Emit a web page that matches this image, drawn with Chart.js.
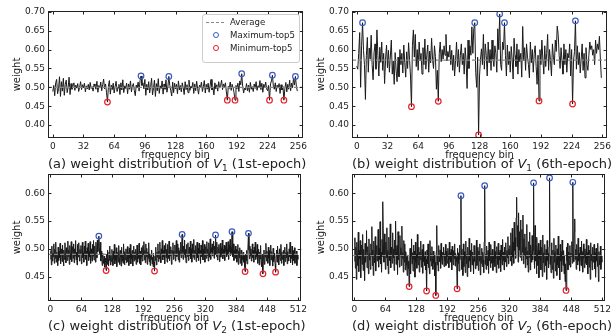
<!DOCTYPE html>
<html>
<head>
<meta charset="utf-8">
<script src="https://cdn.jsdelivr.net/npm/chart.js@4.4.1/dist/chart.umd.min.js"></script>
<style>
  body { margin: 0; width: 614px; height: 333px; position: relative; overflow: hidden; background: #fff;
         font-family: "DejaVu Sans", sans-serif; color: #222; }
  canvas { position: absolute; }
  .cap { position: absolute; width: 256px; text-align: center; font-size: 13px; line-height: 14px; white-space: nowrap; }
  .cap sub { font-size: 9px; line-height: 0; vertical-align: -3px; }
  .legend { position: absolute; left: 202px; top: 14px; width: 98px; height: 49px; box-sizing: border-box;
            border: 1px solid #ccc; border-radius: 3px; background: rgba(255,255,255,0.85); font-size: 8.6px; }
  .legend .row { position: absolute; left: 27px; height: 12px; line-height: 12px; white-space: nowrap; }
  .legend .dash { position: absolute; left: 3px; width: 18px; border-top: 1.3px dashed #888; }
  .legend .dot { position: absolute; left: 10px; width: 4px; height: 4px; border-radius: 50%; border: 1.2px solid; }
</style>
</head>
<body>
<canvas id="chartA" width="310" height="160" style="left:0;top:0"></canvas>
<canvas id="chartB" width="310" height="160" style="left:304px;top:0"></canvas>
<canvas id="chartC" width="310" height="160" style="left:0;top:163px"></canvas>
<canvas id="chartD" width="310" height="160" style="left:304px;top:163px"></canvas>

<div class="cap" style="left:48px;top:157px">(a) weight distribution of <i>V</i><sub>1</sub> (1st-epoch)</div>
<div class="cap" style="left:352px;top:157px">(b) weight distribution of <i>V</i><sub>1</sub> (6th-epoch)</div>
<div class="cap" style="left:48px;top:319px">(c) weight distribution of <i>V</i><sub>2</sub> (1st-epoch)</div>
<div class="cap" style="left:352px;top:319px">(d) weight distribution of <i>V</i><sub>2</sub> (6th-epoch)</div>

<div class="legend">
  <div class="dash" style="top:7px"></div><div class="row" style="top:1px">Average</div>
  <div class="dot" style="top:17px;border-color:#3b5bbf"></div><div class="row" style="top:14px">Maximum-top5</div>
  <div class="dot" style="top:30px;border-color:#e8202a"></div><div class="row" style="top:27px">Minimum-top5</div>
</div>

<script>
// weights x1000, one value per frequency bin
const weightsV1Epoch1 = [
  489,505,478,512,521,483,497,528,476,515,490,524,479,508,519,486,
  500,527,481,510,495,503,512,492,506,498,510,489,501,515,494,507,
  499,511,488,504,496,508,493,513,497,502,490,509,503,495,516,487,
  505,498,514,491,507,522,496,509,487,461,503,518,482,506,494,511,
  485,502,516,489,499,508,481,512,493,520,486,504,497,511,483,509,
  495,517,488,503,510,492,478,506,499,514,490,518,530,505,512,496,
  521,479,508,493,515,485,502,524,480,498,519,476,510,491,523,484,
  504,497,517,482,509,495,520,487,501,529,505,491,477,514,486,511,
  496,508,483,517,493,505,488,512,499,481,515,494,507,486,519,492,
  503,498,513,484,509,491,516,497,482,506,500,514,489,502,518,485,
  508,495,511,487,504,521,493,499,480,512,496,507,490,515,498,505,
  519,494,509,501,512,488,466,503,497,514,492,508,499,486,466,505,
  496,511,489,517,507,536,502,485,498,493,510,491,506,487,513,495,
  502,489,509,497,515,492,504,499,518,494,511,487,508,500,514,496,
  491,505,466,509,517,532,503,495,512,489,506,498,510,484,507,493,
  502,466,497,513,488,508,495,519,491,511,499,524,506,529,503,490
];
const weightsV1Epoch6 = [
  556,548,590,645,500,610,671,598,560,468,585,632,540,604,575,638,
  560,520,592,615,548,652,585,530,606,566,620,545,590,510,575,612,
  552,598,540,583,625,535,570,508,592,545,515,580,528,600,560,590,
  538,612,566,527,594,550,618,575,530,449,610,652,580,640,555,600,
  545,620,570,590,535,605,560,628,548,585,612,540,596,565,630,575,
  550,610,582,495,545,463,590,620,568,600,575,610,585,640,570,595,
  580,612,560,598,545,585,530,572,620,555,600,540,585,615,560,590,
  535,605,570,497,625,550,610,585,660,590,655,671,540,500,580,374,
  530,575,602,560,640,548,615,585,530,620,565,600,545,625,575,555,
  610,590,540,655,600,694,560,545,620,600,671,585,530,612,560,595,
  540,608,575,522,630,585,555,615,535,600,568,590,527,661,570,605,
  545,615,580,560,525,620,565,600,540,590,610,555,508,585,464,600,
  560,625,575,535,610,555,590,640,545,600,570,530,615,580,560,625,
  595,662,640,585,550,605,570,535,615,560,600,540,590,578,615,530,
  600,456,570,595,676,548,610,560,592,538,575,615,545,590,525,605,
  560,545,585,620,600,610,585,600,560,625,590,615,600,635,575,525
];
const weightsV2Epoch1 = [
  482,497,471,505,478,492,486,509,474,499,483,512,476,494,488,470,
  503,479,496,484,510,473,491,500,477,507,485,469,498,481,511,488,
  475,502,492,479,514,486,498,472,506,490,481,513,477,496,504,483,
  509,475,500,487,515,480,494,471,508,492,485,511,478,499,490,506,
  473,497,512,484,493,476,505,488,514,481,496,470,502,489,510,479,
  495,486,513,474,500,491,478,508,487,515,480,498,505,476,512,490,
  484,516,495,507,523,501,489,512,478,496,485,470,492,480,474,487,
  467,483,476,461,490,472,498,481,469,494,479,505,471,488,477,499,
  484,470,496,482,508,473,490,479,502,468,487,494,476,506,483,472,
  497,485,469,503,478,491,474,509,486,471,495,480,500,475,489,504,
  477,493,470,501,484,508,473,490,482,497,469,486,505,478,494,481,
  499,472,488,507,476,492,483,510,474,496,487,471,502,485,478,506,
  490,513,480,497,475,509,486,501,472,494,483,511,477,491,470,488,
  481,498,473,485,468,492,476,460,487,479,503,471,494,485,509,477,
  496,482,512,488,475,500,491,515,480,497,486,506,473,493,510,484,
  499,476,508,490,483,514,479,495,487,504,472,498,492,511,481,496,
  488,507,478,499,515,486,493,509,480,502,476,497,489,512,484,500,
  526,494,481,505,490,516,484,499,475,508,493,486,511,479,496,503,
  487,514,482,500,476,509,492,485,517,481,498,490,506,477,495,512,
  484,501,479,510,489,497,474,507,493,486,515,480,499,491,508,476,
  496,504,483,513,488,500,478,511,492,485,518,481,502,494,509,487,
  499,514,483,505,490,525,498,486,512,480,503,493,508,477,497,510,
  485,502,491,516,482,499,488,507,479,504,494,512,486,500,490,513,
  481,506,495,517,488,503,492,531,500,486,509,479,497,490,505,483,
  499,476,493,508,472,496,484,502,474,489,498,470,486,481,494,476,
  488,467,459,490,479,497,473,486,492,528,498,482,505,487,500,478,
  493,509,484,497,476,503,490,512,481,495,486,508,474,499,489,471,
  494,482,506,476,468,490,479,455,487,498,472,493,485,510,478,496,
  489,474,503,483,497,470,491,507,480,495,486,469,501,477,492,484,
  472,458,488,498,476,505,483,492,471,500,487,479,508,474,494,485,
  481,497,470,489,503,477,493,484,509,473,495,488,478,500,486,512,
  475,492,483,505,471,497,488,479,502,474,490,484,496,470,489,481
];
const weightsV2Epoch6 = [
  478,520,465,503,445,512,488,470,530,459,497,482,515,448,491,507,
  472,526,461,499,484,443,510,476,495,533,466,489,504,455,518,480,
  492,463,509,487,540,470,498,452,514,483,475,522,460,496,506,478,
  489,535,467,501,481,549,473,494,458,517,486,585,505,476,527,491,
  463,512,484,538,470,497,455,521,488,479,545,466,503,492,474,529,
  484,500,461,516,489,550,472,495,506,454,531,480,498,467,524,487,
  502,470,541,483,493,458,515,476,509,462,495,486,470,452,489,464,
  478,432,469,501,455,487,518,473,493,460,507,481,496,449,512,476,
  490,465,526,483,471,503,458,494,480,514,467,489,499,456,508,477,
  486,470,495,462,481,424,498,473,509,466,487,455,515,478,492,469,
  504,482,463,496,474,488,451,476,416,495,542,471,489,460,506,484,
  477,498,465,510,483,472,494,487,503,468,491,479,508,470,496,485,
  474,501,488,466,512,480,493,476,499,462,505,487,471,497,482,509,
  469,492,478,486,428,501,474,493,460,507,480,487,596,463,500,476,
  452,509,468,495,481,457,514,473,490,450,503,484,466,519,478,497,
  459,488,510,471,494,482,455,506,477,498,464,491,516,470,485,503,
  461,496,478,509,453,487,474,501,468,494,480,457,512,614,472,490,
  463,505,483,470,497,456,512,479,493,466,508,485,474,499,461,489,
  476,514,468,495,482,457,504,488,472,510,465,493,480,498,459,507,
  486,471,517,479,494,462,503,490,476,511,468,497,484,522,473,500,
  488,506,478,529,495,470,537,485,512,474,548,497,520,483,556,593,
  504,542,476,565,498,531,485,552,508,479,535,494,561,473,518,489,
  527,466,503,482,544,471,496,458,513,485,530,462,507,490,476,524,
  480,498,619,487,465,542,478,506,455,521,492,470,510,448,497,483,
  516,462,489,503,450,525,475,493,458,508,484,470,499,445,515,479,
  492,466,504,628,472,489,457,511,481,463,498,447,519,476,495,460,
  507,484,452,500,471,523,466,490,444,508,478,495,459,516,482,470,
  497,455,489,441,473,425,503,479,510,462,494,483,471,506,467,492,
  486,513,474,620,490,477,530,554,481,499,463,508,485,471,519,478,
  492,460,503,487,470,514,476,495,458,509,483,466,500,489,474,517,
  471,493,455,506,484,467,498,445,511,479,490,462,503,476,487,508,
  464,493,449,501,478,486,468,510,441,495,480,471,505,463,487,476
];

// top-5 extremes (bin indices) and averages
const maxTop5A = [92, 121, 197, 229, 253];
const minTop5A = [57, 182, 190, 226, 241];
const maxTop5B = [6, 123, 149, 154, 228];
const minTop5B = [57, 85, 127, 190, 225];
const maxTop5C = [100, 272, 341, 375, 409];
const minTop5C = [115, 215, 402, 439, 465];
const maxTop5D = [220, 269, 370, 403, 451];
const minTop5D = [113, 149, 168, 212, 437];
const averageA = 0.500;
const averageB = 0.572;
const averageC = 0.490;
const averageD = 0.488;

const xTicks256 = [0, 32, 64, 96, 128, 160, 192, 224, 256];
const xTicks512 = [0, 64, 128, 192, 256, 320, 384, 448, 512];
const yTicksTop = [0.40, 0.45, 0.50, 0.55, 0.60, 0.65, 0.70];
const yTicksBottom = [0.45, 0.50, 0.55, 0.60];

const INK = '#222';
const BLUE = '#3b5bbf';
const RED = '#e8202a';

// matplotlib-style frame with inward ticks on all four sides
const frameTicks = {
  id: 'frameTicks',
  afterDatasetsDraw(chart) {
    const { ctx, chartArea: a, scales: { x, y } } = chart;
    const len = 3.5;
    ctx.save();
    ctx.strokeStyle = INK;
    ctx.lineWidth = 1;
    ctx.beginPath();
    x.ticks.forEach(t => {
      const p = Math.round(x.getPixelForValue(t.value)) + 0.5;
      ctx.moveTo(p, a.bottom); ctx.lineTo(p, a.bottom - len);
      ctx.moveTo(p, a.top); ctx.lineTo(p, a.top + len);
    });
    y.ticks.forEach(t => {
      const p = Math.round(y.getPixelForValue(t.value)) + 0.5;
      ctx.moveTo(a.left, p); ctx.lineTo(a.left + len, p);
      ctx.moveTo(a.right, p); ctx.lineTo(a.right - len, p);
    });
    ctx.stroke();
    ctx.strokeRect(Math.round(a.left) + 0.5, Math.round(a.top) + 0.5,
                   Math.round(a.right - a.left) - 1, Math.round(a.bottom - a.top) - 1);
    ctx.restore();
  }
};

function createPanel(id, weights, maxIdx, minIdx, average, xMax, xTicks, yMin, yMax, yTicks) {
  const values = weights.map(w => w / 1000);
  const xMin = -5;
  const tickFont = { family: 'DejaVu Sans', size: 9 };
  const titleFont = { family: 'DejaVu Sans', size: 10 };

  return new Chart(document.getElementById(id).getContext('2d'), {
    type: 'line',
    data: {
      datasets: [
        {
          type: 'scatter',
          data: maxIdx.map(i => ({ x: i, y: values[i] })),
          borderColor: BLUE, backgroundColor: 'rgba(0,0,0,0)',
          pointRadius: 2.8, borderWidth: 1.2, showLine: false
        },
        {
          type: 'scatter',
          data: minIdx.map(i => ({ x: i, y: values[i] })),
          borderColor: RED, backgroundColor: 'rgba(0,0,0,0)',
          pointRadius: 2.8, borderWidth: 1.2, showLine: false
        },
        {
          data: [{ x: xMin, y: average }, { x: xMax, y: average }],
          borderColor: '#888', borderWidth: 1.2, borderDash: [4, 2],
          pointRadius: 0
        },
        {
          data: values.map((v, i) => ({ x: i, y: v })),
          borderColor: '#1a1a1a', borderWidth: 1, pointRadius: 0, tension: 0
        }
      ]
    },
    options: {
      responsive: false,
      animation: false,
      events: [],
      layout: { padding: { top: 11, right: 6, left: 0, bottom: 0 } },
      plugins: { legend: { display: false }, tooltip: { enabled: false } },
      scales: {
        x: {
          type: 'linear', min: xMin, max: xMax,
          afterBuildTicks: s => { s.ticks = xTicks.map(v => ({ value: v })); },
          afterFit: s => { s.height = 22; },
          grid: { display: false, drawTicks: false },
          border: { display: false },
          ticks: { font: tickFont, color: INK, padding: 3, maxRotation: 0, autoSkip: false },
          title: { display: true, text: 'frequency bin', font: titleFont, color: INK, padding: { top: 0, bottom: -1 } }
        },
        y: {
          min: yMin, max: yMax,
          afterBuildTicks: s => { s.ticks = yTicks.map(v => ({ value: v })); },
          afterFit: s => { s.width = 48; },
          grid: { display: false, drawTicks: false },
          border: { display: false },
          ticks: { font: tickFont, color: INK, padding: 3, callback: v => v.toFixed(2) },
          title: { display: true, text: 'weight', font: titleFont, color: INK, padding: { top: 11, bottom: 0 } }
        }
      }
    },
    plugins: [frameTicks]
  });
}

createPanel('chartA', weightsV1Epoch1, maxTop5A, minTop5A, averageA, 261, xTicks256, 0.366, 0.702, yTicksTop);
createPanel('chartB', weightsV1Epoch6, maxTop5B, minTop5B, averageB, 261, xTicks256, 0.366, 0.702, yTicksTop);
createPanel('chartC', weightsV2Epoch1, maxTop5C, minTop5C, averageC, 518, xTicks512, 0.406, 0.635, yTicksBottom);
createPanel('chartD', weightsV2Epoch6, maxTop5D, minTop5D, averageD, 518, xTicks512, 0.406, 0.635, yTicksBottom);
</script>
</body>
</html>
